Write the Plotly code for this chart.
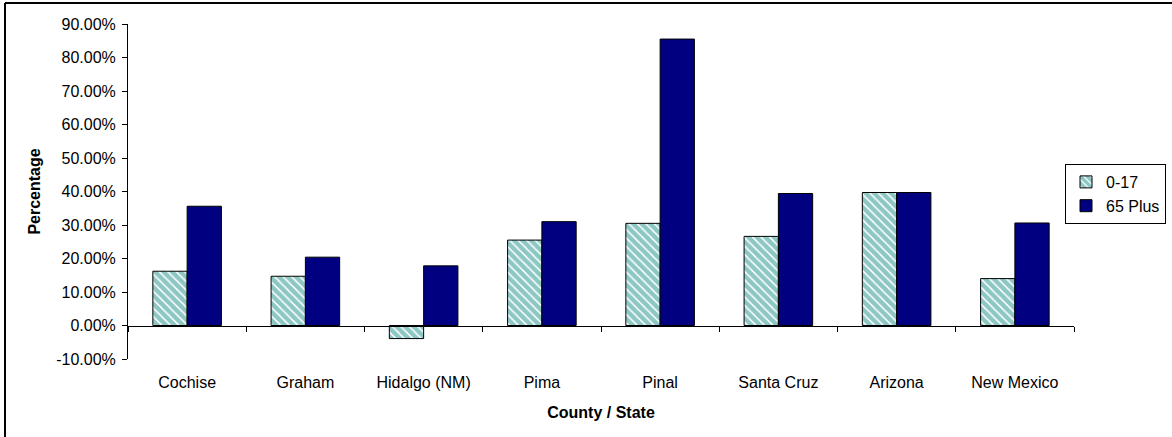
import plotly.graph_objects as go

# Population change by age group, per county / state
categories = ["Cochise", "Graham", "Hidalgo (NM)", "Pima", "Pinal",
              "Santa Cruz", "Arizona", "New Mexico"]
age_0_17 = [16.2, 14.7, -3.9, 25.5, 30.5, 26.6, 39.7, 14.0]
age_65_plus = [35.6, 20.4, 17.8, 31.0, 85.5, 39.4, 39.7, 30.6]
y_ticks = [-10, 0, 10, 20, 30, 40, 50, 60, 70, 80, 90]
y_tick_text = [f"{v:.2f}%" for v in y_ticks]

FONT = "Liberation Sans, Arial, sans-serif"
TEAL = "#1c8f8a"
NAVY = "#000080"

W, H = 1172, 437
L, R, T, B = 128, 98, 24, 78
pw, ph = W - L - R, H - T - B


def px_x(x):
    return (x - L) / pw


def px_y(y):
    return (H - B - y) / ph


fig = go.Figure()
fig.add_trace(go.Bar(
    x=categories, y=age_0_17, name="0-17",
    marker=dict(color="white",
                line=dict(color="black", width=1),
                pattern=dict(shape="\\", fgcolor=TEAL, bgcolor="white",
                             size=6, solidity=0.75, fillmode="overlay")),
))
fig.add_trace(go.Bar(
    x=categories, y=age_65_plus, name="65 Plus",
    marker=dict(color=NAVY, line=dict(color="black", width=1)),
))

# outer chart frame: left and top edges (the rest lies past the page)
frame = dict(type="line", xref="paper", yref="paper",
             line=dict(color="black", width=2), layer="above")
fig.add_shape(x0=px_x(5), x1=px_x(5), y0=px_y(500), y1=px_y(3), **frame)
fig.add_shape(x0=px_x(5), x1=px_x(1300), y0=px_y(3), y1=px_y(3), **frame)

fig.update_layout(
    width=W, height=H,
    margin=dict(l=L, r=R, t=T, b=B, autoexpand=False),
    paper_bgcolor="white", plot_bgcolor="white",
    font=dict(family=FONT, size=16, color="black"),
    barmode="group", bargap=0.42, bargroupgap=0,
    showlegend=True,
    legend=dict(
        x=px_x(1166), xanchor="right", y=px_y(164), yanchor="top",
        bordercolor="black", borderwidth=1, bgcolor="white",
        font=dict(family=FONT, size=16), itemwidth=30,
        tracegroupgap=0,
    ),
    xaxis=dict(
        anchor="free", position=0.1,
        showline=True, linecolor="black", linewidth=1,
        ticks="outside", tickson="boundaries", ticklen=5, tickcolor="black",
        ticklabelstandoff=42,
        showgrid=False, zeroline=False,
        title=dict(text="<b>County / State</b>", standoff=17,
                   font=dict(family=FONT, size=16)),
        automargin=False,
    ),
    yaxis=dict(
        range=[-10, 90], tickvals=y_ticks, ticktext=y_tick_text,
        showline=True, linecolor="black", linewidth=1,
        ticks="outside", ticklen=5, tickcolor="black",
        ticklabelstandoff=3,
        showgrid=False, zeroline=False,
        title=dict(text="<b>Percentage</b>", standoff=11,
                   font=dict(family=FONT, size=16)),
        automargin=False,
    ),
)

fig.write_html("out.html")
